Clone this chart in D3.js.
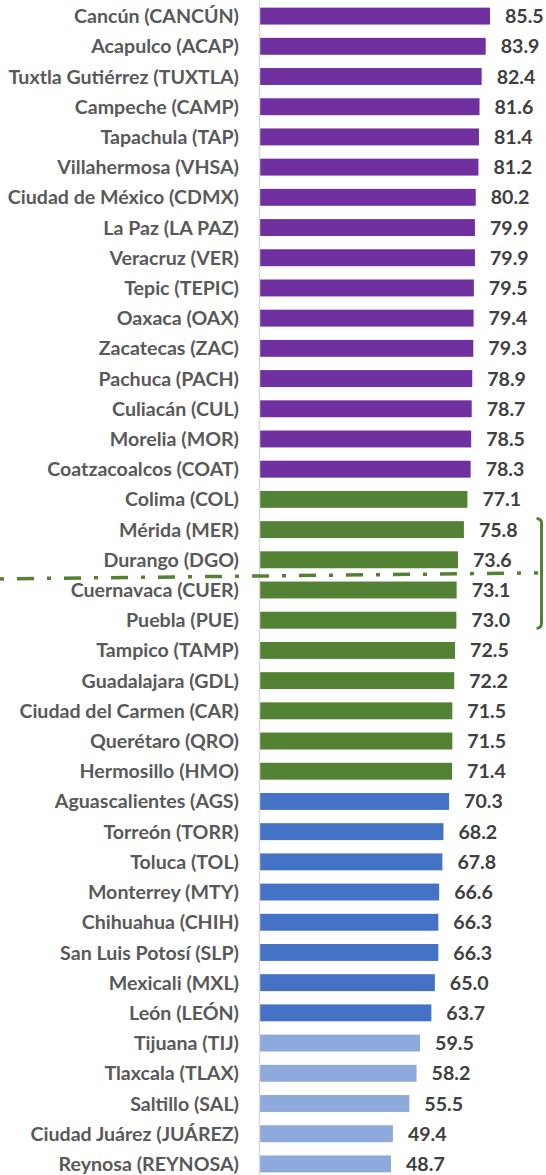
<!DOCTYPE html>
<html>
<head>
<meta charset="utf-8">
<script src="https://cdn.jsdelivr.net/npm/d3@7"></script>
<style>
  body { margin: 0; background: #fff; }
  svg { display: block; }
</style>
</head>
<body>
<div id="chart"></div>
<script>
// data
const cities = [
  'Cancún (CANCÚN)', 'Acapulco (ACAP)', 'Tuxtla Gutiérrez (TUXTLA)', 'Campeche (CAMP)',
  'Tapachula (TAP)', 'Villahermosa (VHSA)', 'Ciudad de México (CDMX)', 'La Paz (LA PAZ)',
  'Veracruz (VER)', 'Tepic (TEPIC)', 'Oaxaca (OAX)', 'Zacatecas (ZAC)', 'Pachuca (PACH)',
  'Culiacán (CUL)', 'Morelia (MOR)', 'Coatzacoalcos (COAT)', 'Colima (COL)', 'Mérida (MER)',
  'Durango (DGO)', 'Cuernavaca (CUER)', 'Puebla (PUE)', 'Tampico (TAMP)', 'Guadalajara (GDL)',
  'Ciudad del Carmen (CAR)', 'Querétaro (QRO)', 'Hermosillo (HMO)', 'Aguascalientes (AGS)',
  'Torreón (TORR)', 'Toluca (TOL)', 'Monterrey (MTY)', 'Chihuahua (CHIH)', 'San Luis Potosí (SLP)',
  'Mexicali (MXL)', 'León (LEÓN)', 'Tijuana (TIJ)', 'Tlaxcala (TLAX)', 'Saltillo (SAL)',
  'Ciudad Juárez (JUÁREZ)', 'Reynosa (REYNOSA)'
];
const values = [
  85.5, 83.9, 82.4, 81.6, 81.4, 81.2, 80.2, 79.9, 79.9, 79.5, 79.4, 79.3, 78.9,
  78.7, 78.5, 78.3, 77.1, 75.8, 73.6, 73.1, 73.0, 72.5, 72.2, 71.5, 71.5, 71.4,
  70.3, 68.2, 67.8, 66.6, 66.3, 66.3, 65.0, 63.7, 59.5, 58.2, 55.5, 49.4, 48.7
];
// group of each city (colour band)
const groups = [
  0, 0, 0, 0, 0, 0, 0, 0, 0, 0, 0, 0, 0, 0, 0, 0,
  1, 1, 1, 1, 1, 1, 1, 1, 1, 1,
  2, 2, 2, 2, 2, 2, 2, 2,
  3, 3, 3, 3, 3
];
const groupColors = ['#7030A0', '#548235', '#4472C4', '#8EA9DB'];
// cut line sits between these two, bracket spans these
const cutAfter = 'Durango (DGO)';
const cutBefore = 'Cuernavaca (CUER)';
const bracketFrom = 'Mérida (MER)';
const bracketTo = 'Puebla (PUE)';

const data = cities.map((c, i) => ({ city: c, value: values[i], group: groups[i] }));

const W = 546, H = 1175;

const svg = d3.select('#chart').append('svg')
  .attr('width', W)
  .attr('height', H);

// ─── SCALES ─────────────────────────────────
const x = d3.scaleLinear()
  .domain([0, 90])
  .range([260, 260 + 90 * 2.69]);

const y = d3.scaleBand()
  .domain(cities)
  .range([1, 1179])
  .paddingInner(0.44)
  .paddingOuter(0.22);

const cy = d => y(d) + y.bandwidth() / 2;

// ─── BARS ───────────────────────────────────
svg.append('g').selectAll('rect')
  .data(data)
  .enter().append('rect')
    .attr('x', x(0))
    .attr('y', d => y(d.city))
    .attr('width', d => x(d.value) - x(0))
    .attr('height', y.bandwidth())
    .attr('fill', d => groupColors[d.group]);

// axis line
svg.append('line')
  .attr('x1', x(0) - 0.5).attr('x2', x(0) - 0.5)
  .attr('y1', 0).attr('y2', H)
  .attr('stroke', '#d9d9d9')
  .attr('stroke-width', 1.5);

// ─── CATEGORY LABELS ────────────────────────
svg.append('g').selectAll('text')
  .data(data)
  .enter().append('text')
    .attr('x', 239)
    .attr('y', d => cy(d.city))
    .attr('dy', '0.36em')
    .attr('text-anchor', 'end')
    .attr('font-family', 'Lato, sans-serif')
    .attr('font-weight', 700)
    .attr('font-size', 19.6)
    .attr('fill', '#595959')
    .text(d => d.city);

// ─── VALUE LABELS ───────────────────────────
svg.append('g').selectAll('text')
  .data(data)
  .enter().append('text')
    .attr('x', d => x(d.value) + 15)
    .attr('y', d => cy(d.city))
    .attr('dy', '0.36em')
    .attr('font-family', 'Lato, sans-serif')
    .attr('font-weight', 700)
    .attr('font-size', 19.6)
    .attr('fill', '#404040')
    .text(d => d3.format('.1f')(d.value));

// ─── CUT LINE + BRACKET ─────────────────────
const green = '#548235';
const cutY = (cy(cutAfter) + cy(cutBefore)) / 2;
svg.append('line')
  .attr('x1', 0).attr('y1', cutY + 4)
  .attr('x2', 538).attr('y2', cutY - 2)
  .attr('stroke', green)
  .attr('stroke-width', 3.5)
  .attr('stroke-dasharray', '4 13 17 13');

const bTop = cy(bracketFrom) - 11;
const bBot = cy(bracketTo) + 8;
const bx = 541.5;
svg.append('path')
  .attr('d', `M${bx - 5},${bTop} Q${bx},${bTop} ${bx},${bTop + 5} L${bx},${bBot - 5} Q${bx},${bBot} ${bx - 5},${bBot}`)
  .attr('fill', 'none')
  .attr('stroke', green)
  .attr('stroke-width', 3);
</script>
</body>
</html>
